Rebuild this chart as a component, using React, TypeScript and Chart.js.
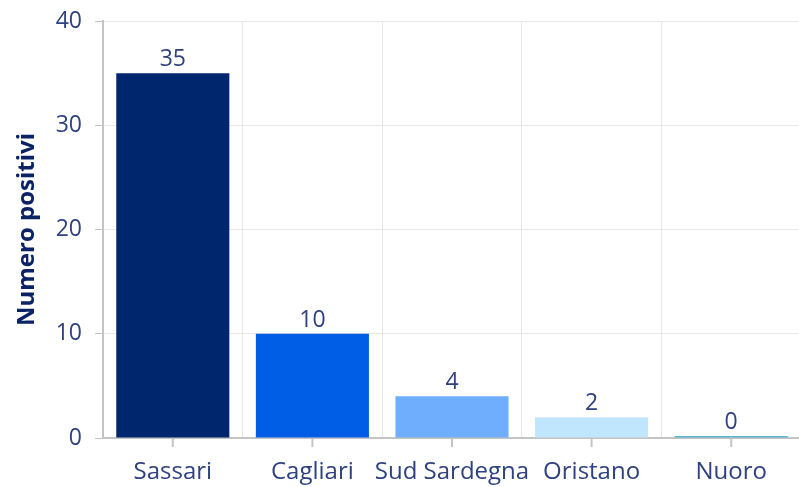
import React, { useEffect, useRef } from "react";
import { Chart, registerables } from "chart.js";

Chart.register(...registerables);

const categories = ["Sassari", "Cagliari", "Sud Sardegna", "Oristano", "Nuoro"];
const positives = [35, 10, 4, 2, 0];
const barColors = ["#00266e", "#005ee6", "#6eaefc", "#c0e6fe", "#5ab8cc"];
const yTicks = [0, 10, 20, 30, 40];
const yTitle = "Numero positivi";

const TEXT = "#2e4180";
const FONT = "'Open Sans', Lato, sans-serif";

const valueLabels = {
  id: "valueLabels",
  afterDatasetsDraw(chart: any) {
    const ctx = chart.ctx;
    const meta = chart.getDatasetMeta(0);
    ctx.save();
    ctx.font = `23px ${FONT}`;
    ctx.fillStyle = TEXT;
    ctx.textAlign = "center";
    ctx.textBaseline = "alphabetic";
    meta.data.forEach((el: any, i: number) => {
      ctx.fillText(String(positives[i]), el.x, el.y - 7);
    });
    ctx.restore();
  },
};

const centerTicks = {
  id: "centerTicks",
  afterDraw(chart: any) {
    const ctx = chart.ctx;
    const xs = chart.scales.x;
    ctx.save();
    ctx.strokeStyle = "#c4c4c4";
    ctx.lineWidth = 2;
    categories.forEach((_, i) => {
      const x = xs.getPixelForValue(i);
      ctx.beginPath();
      ctx.moveTo(x, chart.chartArea.bottom);
      ctx.lineTo(x, chart.chartArea.bottom + 9);
      ctx.stroke();
    });
    ctx.restore();
  },
};

export default function App() {
  const ref = useRef<HTMLCanvasElement>(null);
  useEffect(() => {
    const canvas = ref.current!;
    const chart = new Chart(canvas, {
      type: "bar",
      data: {
        labels: categories,
        datasets: [
          {
            data: positives,
            backgroundColor: barColors,
            borderWidth: 0,
            minBarLength: 2,
            categoryPercentage: 1,
            barPercentage: 0.81,
          },
        ],
      },
      options: {
        responsive: false,
        animation: false,
        layout: { padding: { top: 21, left: 0, right: 0, bottom: 0 } },
        plugins: { legend: { display: false }, tooltip: { enabled: false } },
        scales: {
          x: {
            afterFit: (s: any) => {
              s.height = 62;
              s.paddingLeft = 0;
              s.paddingRight = 0;
            },
            grid: {
              offset: true,
              drawTicks: false,
              color: "#e6e6e6",
              lineWidth: 1,
            },
            border: { color: "#c4c4c4", width: 2 },
            ticks: {
              color: TEXT,
              font: { family: FONT, size: 24 },
              padding: 20,
              maxRotation: 0,
              autoSkip: false,
            },
          },
          y: {
            min: 0,
            max: 40,
            afterFit: (s: any) => {
              s.width = 103;
              s.paddingTop = 0;
              s.paddingBottom = 0;
            },
            afterBuildTicks: (s: any) => {
              s.ticks = yTicks.map((v) => ({ value: v }));
            },
            grid: {
              color: "#e6e6e6",
              tickColor: "#c4c4c4",
              tickLength: 8,
              lineWidth: 1,
            },
            border: { color: "#c4c4c4", width: 2 },
            ticks: {
              color: TEXT,
              font: { family: FONT, size: 23 },
              padding: 13,
            },
            title: {
              display: true,
              text: yTitle,
              color: "#0b2265",
              font: { family: FONT, size: 24, weight: "bold" },
              padding: { top: 13, bottom: 0 },
            },
          },
        },
      },
      plugins: [valueLabels, centerTicks],
    });
    return () => chart.destroy();
  }, []);
  return (
    <div
      style={{
        position: "fixed",
        left: 0,
        top: 0,
        width: 799,
        height: 487,
        overflow: "hidden",
        background: "#fff",
      }}
    >
      <canvas ref={ref} width={801} height={500} style={{ display: "block" }} />
    </div>
  );
}
